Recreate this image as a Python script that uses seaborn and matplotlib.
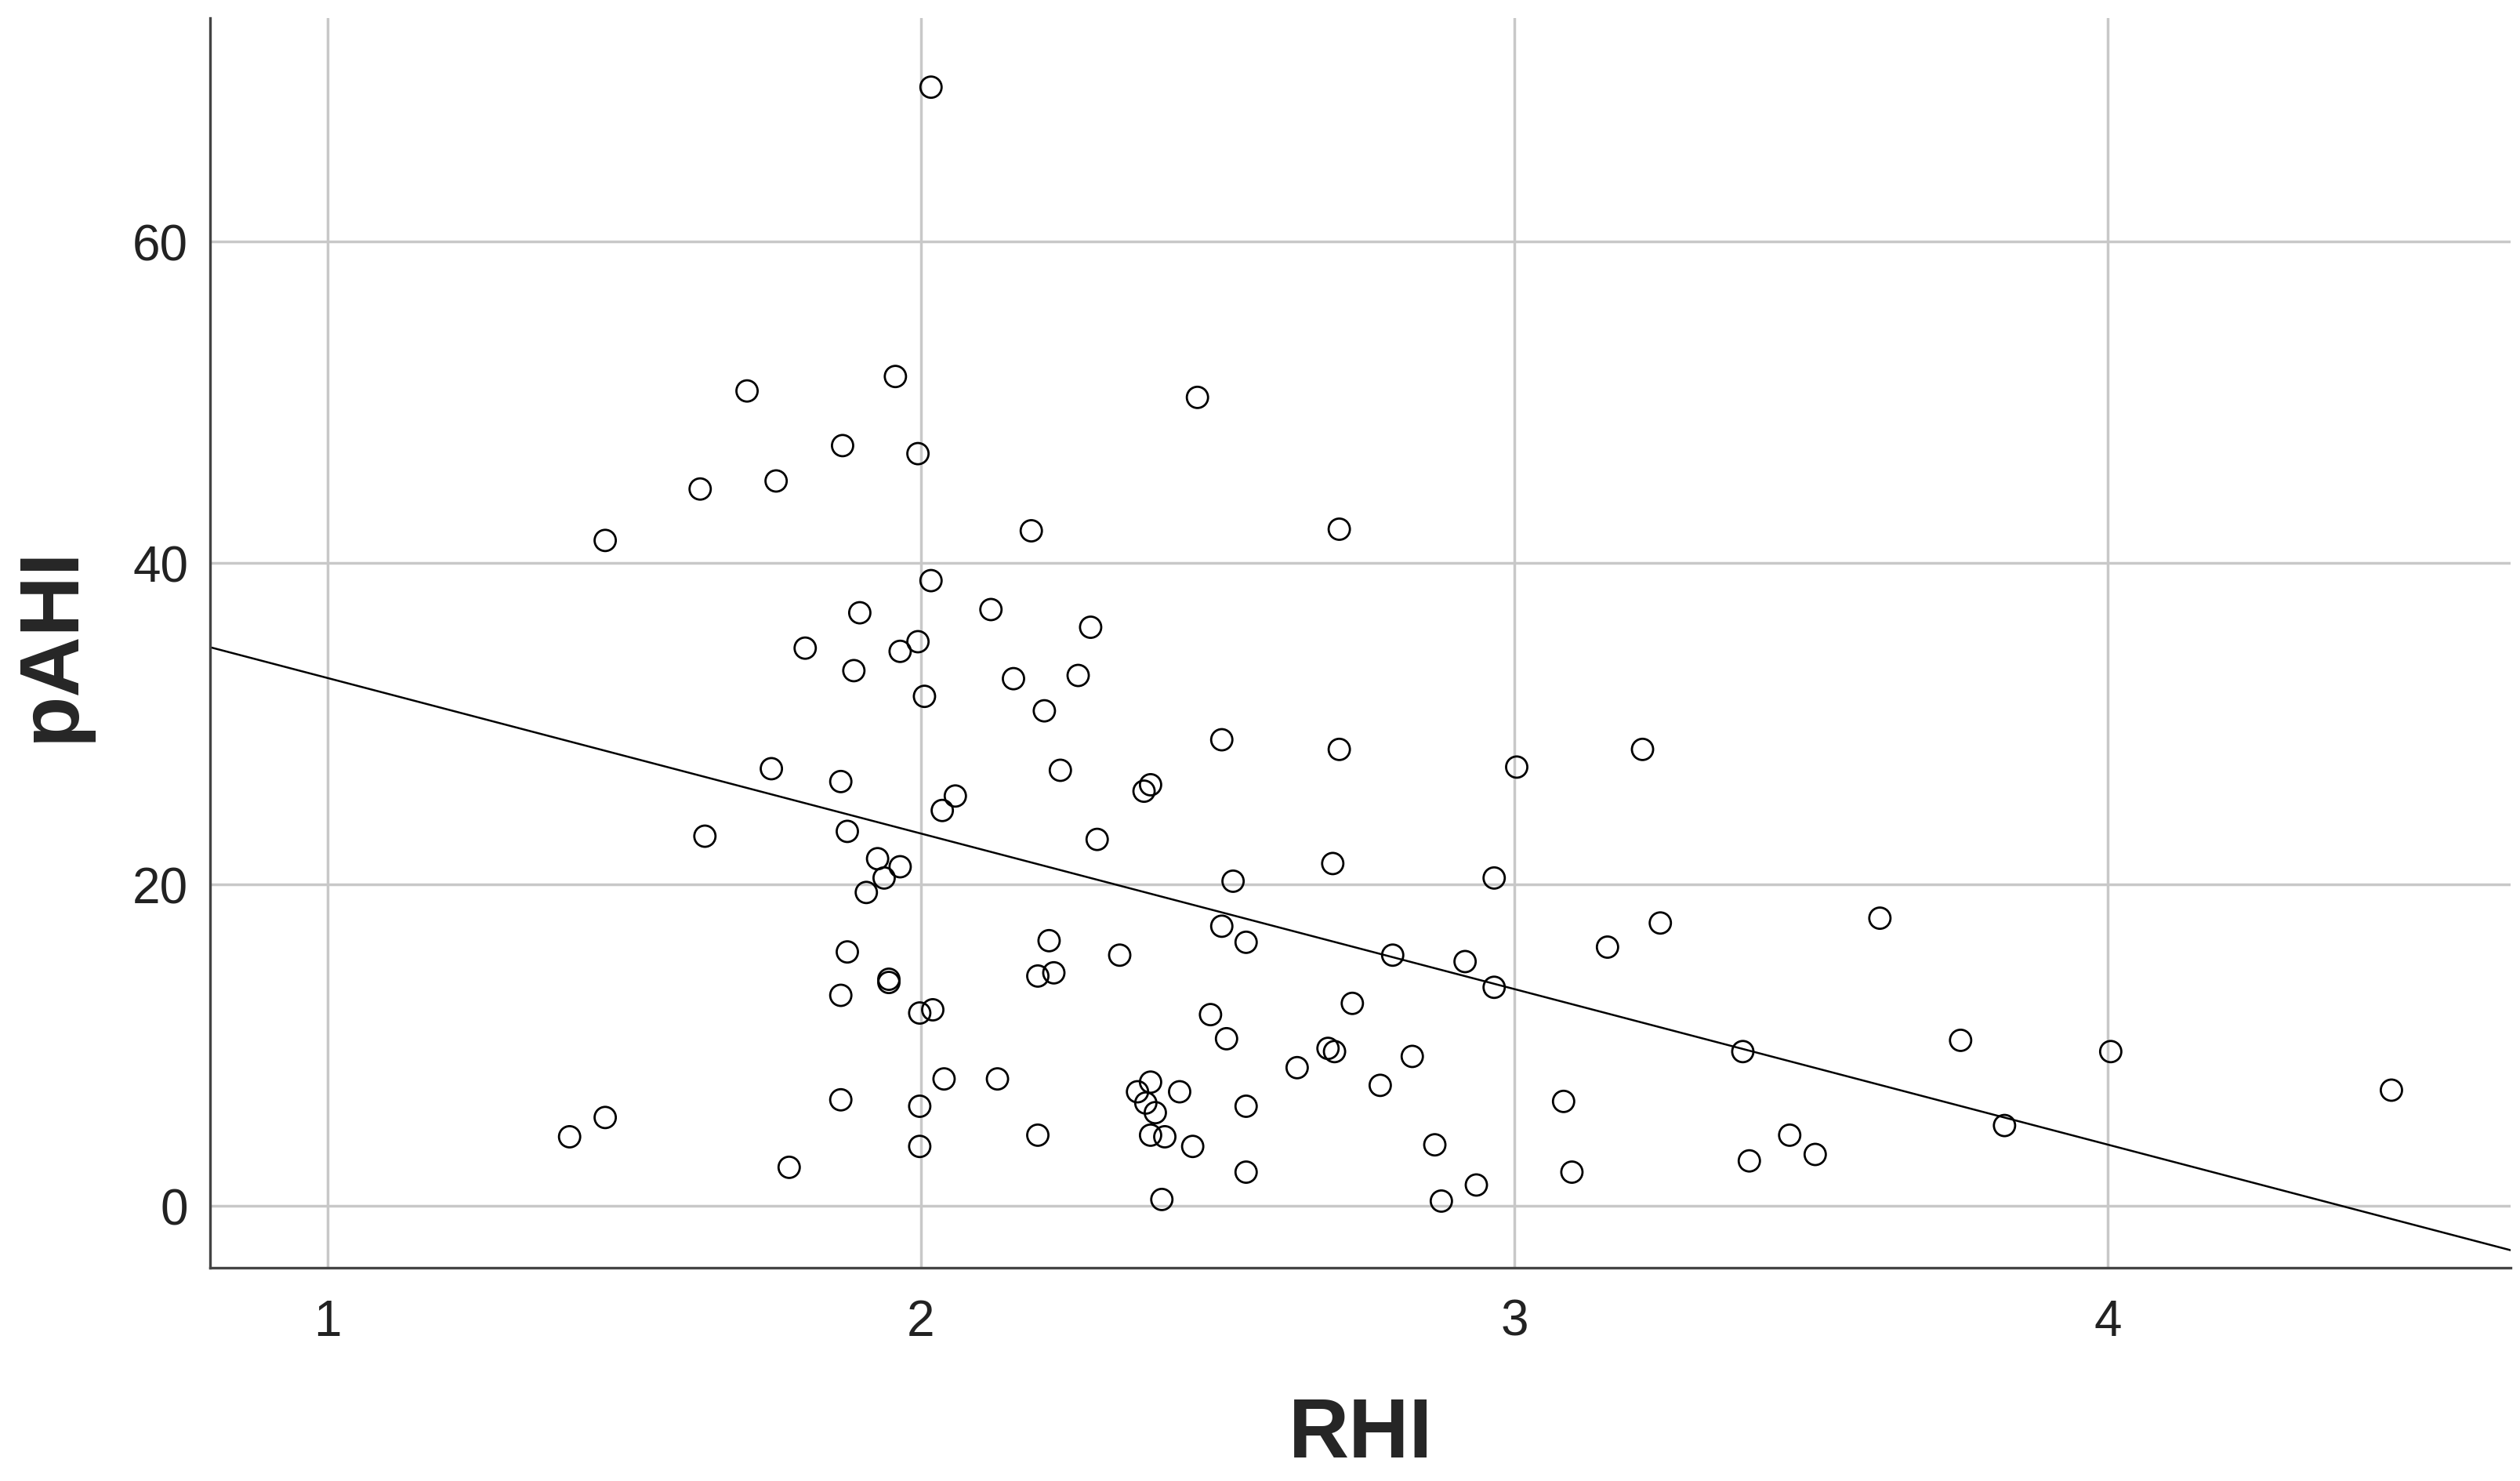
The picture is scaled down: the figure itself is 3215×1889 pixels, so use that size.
# import packages
import matplotlib
matplotlib.use('Agg')
import matplotlib.pyplot as plt
import pandas as pd
import seaborn as sns

# values
rhi = [2.017, 1.707, 1.957, 2.466, 1.628, 1.756, 1.868, 1.995, 1.468, 2.186,
       2.705, 2.017, 1.897, 2.118, 2.286, 1.805, 1.965, 1.995, 1.887, 2.156,
       2.265, 2.006, 2.208, 2.507, 2.705, 3.216, 1.748, 2.235, 3.004, 1.865,
       2.387, 2.376, 2.058, 2.036, 1.876, 1.636, 2.297, 1.927, 1.965, 1.938,
       2.694, 1.908, 2.526, 2.966, 2.507, 3.246, 3.616, 2.216, 2.548, 3.157,
       1.876, 2.335, 2.795, 2.917, 2.197, 2.224, 1.946, 1.946, 2.966, 1.865,
       2.727, 2.020, 1.998, 2.488, 2.515, 3.752, 3.385, 4.005, 2.686, 2.697,
       2.828, 2.634, 2.039, 2.129, 2.387, 2.774, 2.365, 2.436, 4.478, 2.379,
       1.865, 3.083, 1.998, 2.548, 2.395, 1.468, 3.826, 1.408, 2.197, 2.387,
       2.411, 3.464, 2.458, 1.998, 2.866, 3.507, 3.396, 1.778, 2.548, 3.097,
       2.936, 2.406, 2.877]
pahi = [69.6, 50.7, 51.6, 50.3, 44.6, 45.1, 47.3, 46.8, 41.4, 42.0,
        42.1, 38.9, 36.9, 37.1, 36.0, 34.7, 34.5, 35.1, 33.3, 32.8,
        33.0, 31.7, 30.8, 29.0, 28.4, 28.4, 27.2, 27.1, 27.3, 26.4,
        26.2, 25.8, 25.5, 24.6, 23.3, 23.0, 22.8, 21.6, 21.1, 20.4,
        21.3, 19.5, 20.2, 20.4, 17.4, 17.6, 17.9, 16.5, 16.4, 16.1,
        15.8, 15.6, 15.6, 15.2, 14.3, 14.5, 14.1, 13.9, 13.6, 13.1,
        12.6, 12.2, 12.0, 11.9, 10.4, 10.3, 9.6, 9.6, 9.8, 9.6,
        9.3, 8.6, 7.9, 7.9, 7.7, 7.5, 7.1, 7.1, 7.2, 6.4,
        6.6, 6.5, 6.2, 6.2, 5.8, 5.5, 5.0, 4.3, 4.4, 4.4,
        4.3, 4.4, 3.7, 3.7, 3.8, 3.2, 2.8, 2.4, 2.1, 2.1,
        1.3, 0.4, 0.3]
x_ticks = [1, 2, 3, 4]
y_ticks = [0, 20, 40, 60]

df = pd.DataFrame({'RHI': rhi, 'pAHI': pahi})

# build image
sns.set_style('white')
plt.rcParams['font.family'] = ['Liberation Sans', 'DejaVu Sans']
fig, ax = plt.subplots(figsize=(32.16, 18.9), dpi=100)
fig.subplots_adjust(left=0.0833, right=0.996, bottom=0.1439, top=0.9873)

ax.set_xlim(0.802, 4.679)
ax.set_ylim(-3.85, 73.9)

# points
sns.scatterplot(data=df, x='RHI', y='pAHI', ax=ax, s=380, marker='o',
                facecolor='none', edgecolor='black', linewidth=2.0, zorder=3)

# fit line over the whole x range
sns.regplot(data=df, x='RHI', y='pAHI', ax=ax, scatter=False, ci=None,
            truncate=False, line_kws={'color': 'black', 'lw': 1.8, 'zorder': 2})

# graph elements
ax.set_xticks(x_ticks)
ax.set_yticks(y_ticks)
ax.grid(True, color='#c8c8c8', lw=2.5)
ax.set_axisbelow(True)
ax.tick_params(axis='both', length=0, labelsize=46, labelcolor='#222222')
ax.tick_params(axis='x', pad=28)
ax.tick_params(axis='y', pad=20)
for side in ['top', 'right']:
    ax.spines[side].set_visible(False)
for side in ['left', 'bottom']:
    ax.spines[side].set_color('#444444')
    ax.spines[side].set_linewidth(2.4)

ax.set_xlabel('RHI', fontsize=77, fontweight='bold', labelpad=46)
ax.set_ylabel('pAHI', fontsize=77, fontweight='bold', labelpad=38)

# save
fig.savefig('out.png', dpi=100)
